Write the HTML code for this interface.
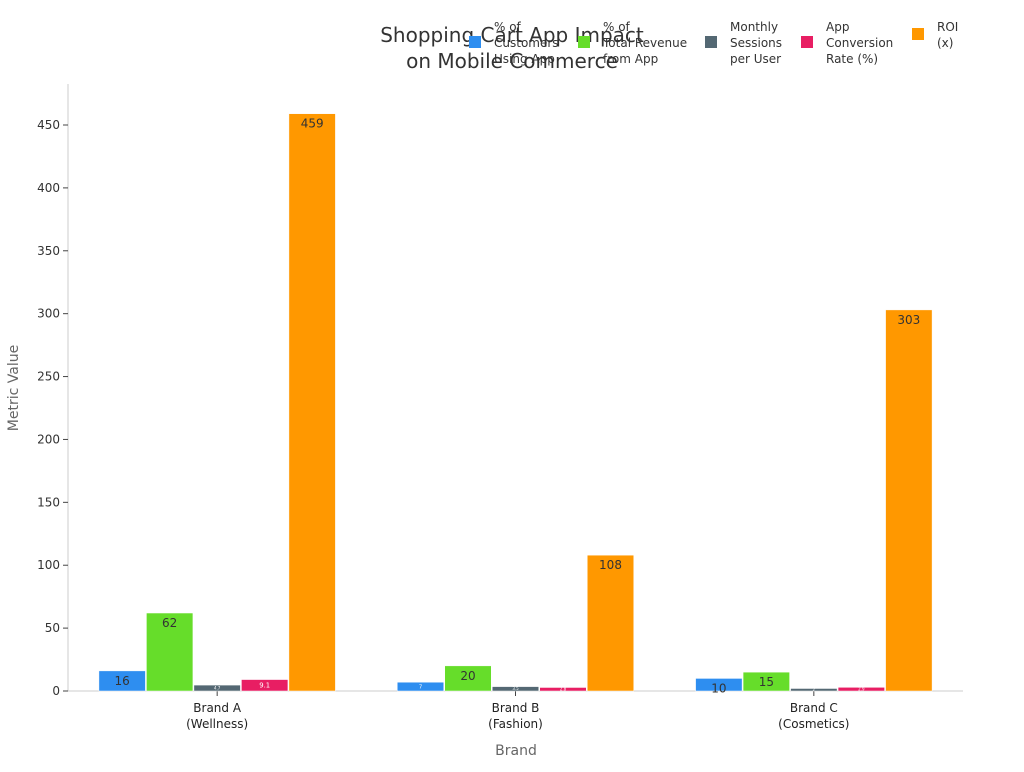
<!DOCTYPE html>
<html><head><meta charset="utf-8"><style>
body{margin:0;background:#fff;font-family:"DejaVu Sans","Liberation Sans",sans-serif;}
svg text{font-family:"DejaVu Sans","Liberation Sans",sans-serif;}
</style></head><body>
<svg id="chart" width="1024" height="768" xmlns="http://www.w3.org/2000/svg"></svg>
<script>
const categories = ["Brand A\n(Wellness)", "Brand B\n(Fashion)", "Brand C\n(Cosmetics)"];
const seriesNames = ["% of\nCustomers\nUsing App", "% of\nTotal Revenue\nfrom App", "Monthly\nSessions\nper User", "App\nConversion\nRate (%)", "ROI\n(x)"];
const customersUsingApp = [16, 7, 10];
const revenueFromApp = [62, 20, 15];
const sessionsPerUser = [4.7, 3.5, 2.0];
const conversionRate = [9.1, 2.8, 2.9];
const roi = [459, 108, 303];
const yTicks = [0, 50, 100, 150, 200, 250, 300, 350, 400, 450];
const colors = ["#2e8ef0", "#66dd2a", "#546873", "#e81e63", "#ff9800"];
const allSeries = [customersUsingApp, revenueFromApp, sessionsPerUser, conversionRate, roi];

const svg = document.getElementById('chart');
const NS = "http://www.w3.org/2000/svg";
function mk(tag, attrs, parent){const e=document.createElementNS(NS,tag);for(const k in attrs)e.setAttribute(k,attrs[k]);(parent||svg).appendChild(e);return e;}
const x0=68, x1=963, y0=691, yTop=84;
const yScale = v => y0 - v*(691-125)/450;
const groupW = (x1-x0)/categories.length;
const gc = i => x0 + groupW*(i+0.5);
const barW = 47.5;

// axes
let ax = mk('line',{x1:x0,y1:y0,x2:x1,y2:y0,stroke:'#ccc'});

let ay = mk('line',{x1:x0,y1:yTop,x2:x0,y2:y0,stroke:'#ccc'});

yTicks.forEach(t=>{
  const y=yScale(t);
  mk('line',{x1:x0-5,y1:y,x2:x0,y2:y,stroke:'#444'});
  const tx=mk('text',{x:x0-8,y:y+4,'text-anchor':'end','font-size':12,fill:'#333'});
  tx.textContent=t;
  
});
categories.forEach((c,i)=>{
  const cx=gc(i);
  mk('line',{x1:cx,y1:y0,x2:cx,y2:y0+5,stroke:'#444'});
  c.split('\n').forEach((ln,j)=>{
    const tx=mk('text',{x:cx,y:712+j*16,'text-anchor':'middle','font-size':12,fill:'#222'});
    tx.textContent=ln;
    
  });
});
// bars
allSeries.forEach((s,si)=>{
  s.forEach((v,i)=>{
    const bx=gc(i)-2.5*barW+si*barW;
    const y=yScale(v);
    const r=mk('rect',{x:bx+0.5,y:y,width:barW-1,height:y0-y,fill:colors[si],stroke:'#fff','stroke-width':0.5});
    
    const h=y0-y;
    const fs = h>=12 ? 12 : Math.max(4, h*0.6);
    const tx=mk('text',{x:bx+barW/2,y:h>=12?y+14:y+h/2+fs*0.35,'text-anchor':'middle','font-size':fs,fill:h>=12?'#333':'#fff'});
    tx.textContent=Math.round(v*10)/10===Math.round(v)?Math.round(v):v;
    if(v>=10) tx.textContent=Math.round(v);
    
  });
});
// titles
let t1=mk('text',{x:512,y:42,'text-anchor':'middle','font-size':20,fill:'#333'});t1.textContent='Shopping Cart App Impact';

let t2=mk('text',{x:512,y:68,'text-anchor':'middle','font-size':20,fill:'#333'});t2.textContent='on Mobile Commerce';

let xt=mk('text',{x:516,y:755,'text-anchor':'middle','font-size':14,fill:'#666'});xt.textContent='Brand';

let yt=mk('text',{x:18,y:388,'text-anchor':'middle','font-size':14,fill:'#666',transform:'rotate(-90 18 388)'});yt.textContent='Metric Value';

// legend
const legSq=[469,578,705,801,912];
seriesNames.forEach((n,i)=>{
  const g=mk('g',{});
  
  const lines=n.split('\n');
  mk('rect',{x:legSq[i],y:lines.length===3?36:28,width:12,height:12,fill:colors[i]},g);
  lines.forEach((ln,j)=>{
    const tx=mk('text',{x:legSq[i]+25,y:31+j*16,'font-size':12,fill:'#333'},g);
    tx.textContent=ln;
  });
});
</script>
</body></html>
